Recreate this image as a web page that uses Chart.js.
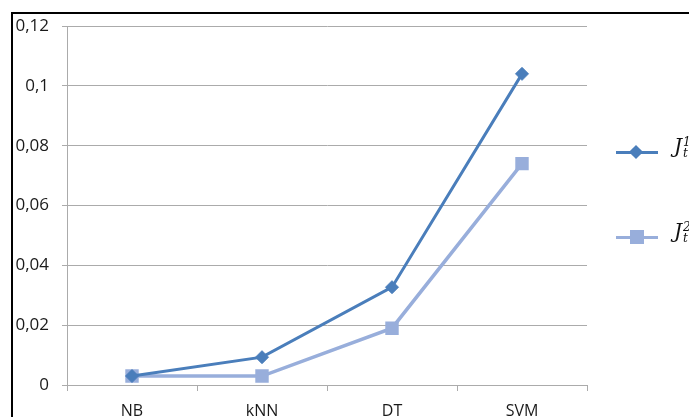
<!DOCTYPE html>
<html>
<head>
<meta charset="utf-8">
<script src="https://cdn.jsdelivr.net/npm/chart.js@4/dist/chart.umd.min.js"></script>
<style>
  html, body { margin: 0; padding: 0; background: #fff; overflow: hidden; }
  #wrap { position: relative; width: 689px; height: 417px; overflow: hidden; }
  #frame { position: absolute; left: 11px; top: 12px; width: 900px; height: 600px;
           border-top: 2px solid #000; border-left: 2px solid #000; box-sizing: border-box; }
  canvas { position: absolute; left: 0; top: 0; }
  .leg { position: absolute; left: 616px; height: 30px; }
  .leg .ln { position: absolute; left: 0; top: 14px; width: 42px; height: 3px; }
  .leg .mk { position: absolute; }
  .leg .lab { position: absolute; left: 58px; top: -3px; font-family: "DejaVu Serif", "Liberation Serif", serif;
              font-style: italic; font-size: 20px; color: #111; white-space: nowrap; }
  .leg .st { display: inline-block; position: relative; width: 10px; height: 20px; vertical-align: top; }
  .leg .st span { position: absolute; left: 1px; font-size: 12px; line-height: 12px; }
</style>
</head>
<body>
<div id="wrap">
  <div id="frame"></div>
  <canvas id="c" width="689" height="417"></canvas>
  <div class="leg" style="top:137px">
    <div class="ln" style="background:#4a7ebb"></div>
    <div class="mk" style="left:15px;top:10px;width:10px;height:10px;background:#4a7ebb;transform:rotate(45deg)"></div>
    <div class="lab">J<span class="st"><span style="top:2px">1</span><span style="top:13px">t</span></span></div>
  </div>
  <div class="leg" style="top:222px">
    <div class="ln" style="background:#98aedb"></div>
    <div class="mk" style="left:14px;top:8px;width:14px;height:14px;background:#98aedb"></div>
    <div class="lab">J<span class="st"><span style="top:2px">2</span><span style="top:13px">t</span></span></div>
  </div>
</div>
<script>
// Classifiers on the x axis
const categories = ["NB", "kNN", "DT", "SVM"];
// Two measures per classifier
const seriesJ1 = [0.003, 0.0093, 0.0327, 0.104];
const seriesJ2 = [0.003, 0.003, 0.019, 0.074];
// Y axis tick labels (decimal comma)
const yTickValues = [0, 0.02, 0.04, 0.06, 0.08, 0.1, 0.12];
const yTickLabels = ["0", "0,02", "0,04", "0,06", "0,08", "0,1", "0,12"];

const gridColor = "#ababab";
const yFont = { family: "'Open Sans', 'Liberation Sans', sans-serif", size: 17 };
const xFont = { family: "'Open Sans', 'Liberation Sans', sans-serif", size: 16 };

new Chart(document.getElementById("c"), {
  type: "line",
  data: {
    labels: categories,
    datasets: [
      {
        label: "J1",
        data: seriesJ1,
        borderColor: "#4a7ebb",
        backgroundColor: "#4a7ebb",
        borderWidth: 3,
        pointStyle: "rectRot",
        pointRadius: 6.5,
        pointBorderWidth: 1,
        tension: 0
      },
      {
        label: "J2",
        data: seriesJ2,
        borderColor: "#98aedb",
        backgroundColor: "#98aedb",
        borderWidth: 3.5,
        pointStyle: "rect",
        pointRadius: 9.5,
        pointBorderWidth: 0,
        tension: 0
      }
    ]
  },
  options: {
    responsive: false,
    animation: false,
    devicePixelRatio: 1,
    layout: { padding: { left: 0, right: 102, top: 26, bottom: 0 } },
    plugins: { legend: { display: false }, tooltip: { enabled: false } },
    scales: {
      x: {
        offset: true,
        grid: { offset: true, drawOnChartArea: false, drawTicks: true, tickLength: 6, color: gridColor },
        border: { color: gridColor },
        ticks: { color: "#1a1a1a", font: xFont, padding: 11, maxRotation: 0 },
        afterFit: s => { s.height = 32; }
      },
      y: {
        min: 0,
        max: 0.12,
        afterBuildTicks: s => { s.ticks = yTickValues.map(v => ({ value: v })); },
        grid: { color: gridColor, tickLength: 5 },
        border: { color: gridColor },
        ticks: {
          color: "#1a1a1a",
          font: yFont,
          padding: 13,
          callback: (v) => {
            const i = yTickValues.findIndex(t => Math.abs(t - v) < 1e-9);
            return i >= 0 ? yTickLabels[i] : "";
          }
        },
        afterFit: s => { s.width = 67; }
      }
    }
  }
});
</script>
</body>
</html>
